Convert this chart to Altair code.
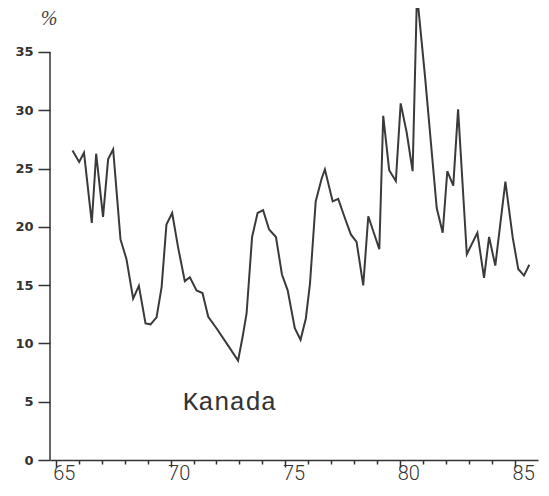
import altair as alt
import pandas as pd

# ---- data ----
years = [65.73, 66.02, 66.23, 66.57, 66.76, 67.06, 67.28, 67.50, 67.82, 68.08,
         68.37, 68.62, 68.91, 69.13, 69.39, 69.61, 69.82, 70.07, 70.33, 70.62,
         70.84, 71.13, 71.39, 71.64, 72.00, 72.58, 72.94, 73.14, 73.31, 73.55,
         73.79, 74.03, 74.29, 74.59, 74.85, 75.10, 75.41, 75.66, 75.89, 76.07,
         76.32, 76.58, 76.72, 77.06, 77.30, 77.59, 77.85, 78.10, 78.39, 78.61,
         79.09, 79.26, 79.52, 79.81, 80.02, 80.28, 80.54, 80.73, 81.08, 81.59,
         81.85, 82.05, 82.31, 82.52, 82.90, 83.36, 83.65, 83.87, 84.14, 84.58,
         84.90, 85.14, 85.39, 85.62]
values = [26.55, 25.57, 26.36, 20.34, 26.27, 20.85, 25.79, 26.64, 18.92, 17.23,
          13.84, 14.94, 11.72, 11.64, 12.23, 14.83, 20.19, 21.19, 18.22, 15.34,
          15.68, 14.55, 14.32, 12.29, 11.30, 9.60, 8.53, 10.59, 12.57, 19.13,
          21.19, 21.42, 19.77, 19.13, 15.91, 14.55, 11.30, 10.31, 12.14, 15.11,
          22.18, 24.15, 24.92, 22.18, 22.40, 20.76, 19.35, 18.70, 14.97, 20.91,
          18.08, 29.52, 24.86, 23.92, 30.59, 28.11, 24.77, 40.00, 32.91, 21.61,
          19.49, 24.77, 23.53, 30.08, 17.65, 19.49, 15.62, 19.13, 16.67, 23.87,
          19.07, 16.38, 15.82, 16.75]
x_ticks = list(range(65, 86))
y_ticks = [0, 5, 10, 15, 20, 25, 30, 35]
country = ["Kanada"]
unit = ["%"]

df = pd.DataFrame({"year": years, "value": values})

W, H = 488, 452
x_scale = alt.Scale(domain=[64.75, 86.0], nice=False, zero=False)
y_scale = alt.Scale(domain=[0, 38.77], nice=False, zero=False)

x_axis = alt.Axis(
    values=x_ticks, title=None, grid=False,
    labelExpr="datum.value % 5 === 0 ? datum.label : ''",
    tickSize={"condition": {"test": "datum.value % 5 === 0", "value": 7}, "value": 4},
    tickColor="#333", tickWidth=1.5, domainColor="#333", domainWidth=1.5,
    labelFont="Roboto", labelFontWeight=300, labelFontSize=20, labelColor="#333",
    labelAlign="left", labelBaseline="top", labelOffset=-3, labelPadding=-4,
    labelFlush=False, labelOverlap=False)
y_axis = alt.Axis(
    values=y_ticks, title=None, grid=False, domain=False,
    tickSize=12, tickColor="#333", tickWidth=1.5,
    labelFont="DejaVu Sans", labelFontWeight="bold", labelFontSize=13,
    labelColor="#333", labelPadding=5)

line = alt.Chart(df).mark_line(color="#3a3a3a", strokeWidth=2, clip=True).encode(
    x=alt.X("year:Q", scale=x_scale, axis=x_axis),
    y=alt.Y("value:Q", scale=y_scale, axis=y_axis),
)

yaxis_rule = alt.Chart(pd.DataFrame({"a": [0]})).mark_rule(
    color="#333", strokeWidth=1.5).encode(
    x=alt.value(0),
    y=alt.YDatum(0, axis=y_axis),
    y2=alt.Y2Datum(35),
)

label = alt.Chart(pd.DataFrame({"t": country})).mark_text(
    align="left", baseline="alphabetic",
    font="Courier New, Courier, FreeMono, Nimbus Mono PS, Liberation Mono, monospace",
    fontSize=26, color="#333").encode(
    text="t:N",
    x=alt.XDatum(70.53, axis=x_axis),
    y=alt.YDatum(4.3, axis=y_axis),
)

pct = alt.Chart(pd.DataFrame({"t": unit})).mark_text(
    align="center", baseline="middle", font="Liberation Serif",
    fontStyle="italic", fontSize=20, color="#444").encode(
    text="t:N",
    x=alt.value(-1),
    y=alt.value(11),
)

chart = alt.layer(line, yaxis_rule, label, pct).properties(
    width=W, height=H,
    autosize=alt.AutoSizeParams(type="none"),
    padding={"left": 42, "top": 0, "right": 3, "bottom": 27},
    background="white",
).configure_view(stroke=None)

chart.save("out.html", embed_options={"renderer": "svg", "actions": False})
